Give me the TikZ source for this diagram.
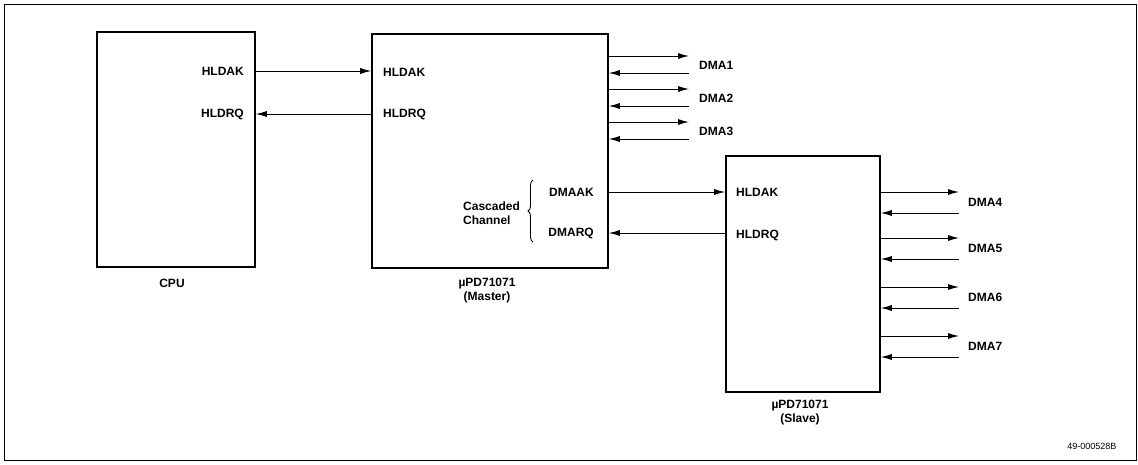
\documentclass[tikz,border=0pt]{standalone}
\usepackage{fontspec}
\setmainfont{Liberation Sans}
\usetikzlibrary{arrows.meta,positioning,calc,decorations.pathreplacing}

\begin{document}
\begin{tikzpicture}[
    x=1pt, y=-1pt,
    font=\fontsize{12}{14}\selectfont\bfseries,
    chip/.style ={
        draw,
        line width=1.6pt,
        inner sep=0pt
    },
    lbl/.style ={
        inner sep=1pt
    },
    sig/.style ={
        -{Latex[length=11pt,width=6pt]},
        line width=0.9pt
    }
    ]
    \useasboundingbox (0,0) rectangle (1138,464);
    \draw[line width=1pt] (4,4) rectangle (1136,460);

    % the three chips
    \node[chip, minimum width=158pt, minimum height=235pt] (cpu)  at (176,149.5) {};
    \node[chip, minimum width=236pt, minimum height=234pt] (mstr) at (490,151) {};
    \node[chip, minimum width=154pt, minimum height=236pt] (slv)  at (803,274) {};

    \node[lbl] (cpucap) at (172,283) {CPU};
    \node[lbl, align=center] (mstrcap) at (487,291) {µPD71071\\(Master)};
    \node[lbl, align=center] (slvcap) at (800,413) {µPD71071\\(Slave)};

    % pin names
    \node[lbl, anchor=east] (cpuak) at (245,71)  {HLDAK};
    \node[lbl, anchor=east] (cpurq) at (245,114) {HLDRQ};
    \node[lbl, anchor=west] (mak)   at (382,72)  {HLDAK};
    \node[lbl, anchor=west] (mrq)   at (382,114) {HLDRQ};
    \node[lbl, anchor=east] (mdak)  at (595,192) {DMAAK};
    \node[lbl, anchor=east] (mdrq)  at (595,233) {DMARQ};
    \node[lbl, anchor=west] (sak)   at (735,192) {HLDAK};
    \node[lbl, anchor=west] (srq)   at (735,235) {HLDRQ};

    \node[lbl, anchor=west, align=left] (casc) at (462,213) {Cascaded\\Channel};
    \draw[decorate, decoration={brace, amplitude=5pt}, line width=0.9pt]
        (533,242) -- (533,180);

    % handshake lines
    \draw[sig] (cpu.east |- cpuak) -- (mstr.west |- cpuak);
    \draw[sig] (mstr.west |- cpurq) -- (cpu.east |- cpurq);
    \draw[sig] (mstr.east |- mdak) -- (slv.west |- mdak);
    \draw[sig] (slv.west |- mdrq) -- (mstr.east |- mdrq);

    % DMA channels of the master
    \foreach \i/\y in {1/65, 2/98, 3/131} {
        \node[lbl, anchor=west] (dma\i) at (698,\y) {DMA\i};
        \coordinate (mo\i) at (689,\y-9);
        \coordinate (mi\i) at (689,\y+8);
        \draw[sig] (mstr.east |- mo\i) -- (mo\i);
        \draw[sig] (mi\i) -- (mstr.east |- mi\i);
    }

    % DMA channels of the slave
    \foreach \i/\y in {4/202, 5/248, 6/297, 7/346} {
        \node[lbl, anchor=west] (dma\i) at (967,\y) {DMA\i};
        \coordinate (so\i) at (959,\y-10);
        \coordinate (si\i) at (959,\y+11);
        \draw[sig] (slv.east |- so\i) -- (so\i);
        \draw[sig] (si\i) -- (slv.east |- si\i);
    }

    \node[anchor=east, font=\fontsize{9}{10}\selectfont] (fig) at (1120,446) {49-000528B};
\end{tikzpicture}
\end{document}
